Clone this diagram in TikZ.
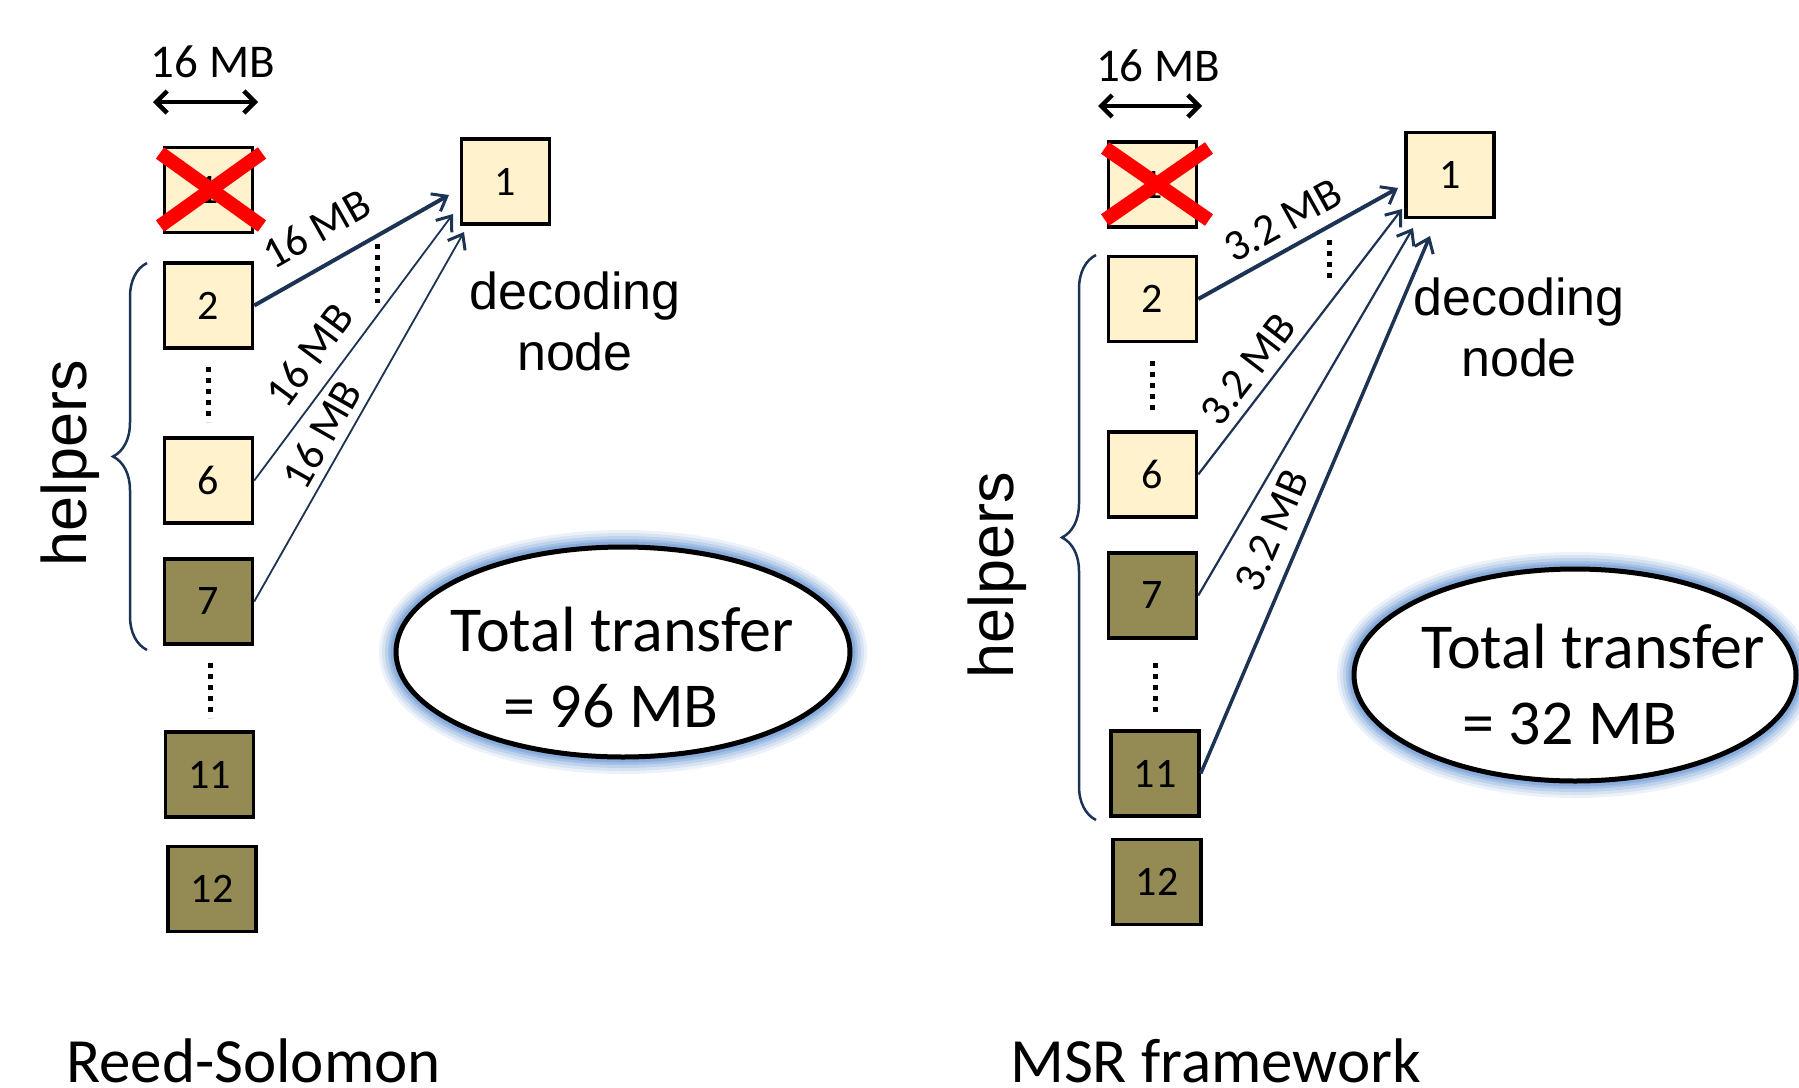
\documentclass[tikz,border=0pt]{standalone}
\usepackage{fontspec}
\setmainfont{Carlito}
\newfontfamily\arialfont{Liberation Sans}
\usetikzlibrary{arrows.meta,decorations.pathreplacing,calc}

\definecolor{cream}{HTML}{FFF2CC}
\definecolor{olive}{HTML}{948A54}
\definecolor{navy}{HTML}{1C3354}
\definecolor{xred}{HTML}{FF0000}
\definecolor{glowblue}{HTML}{6A98D4}

\begin{document}
\begin{tikzpicture}[x=1pt,y=-1pt,
  blk/.style={draw=black, line width=3.5pt, minimum width=88pt, minimum height=85pt,
    inner sep=0pt, font=\fontsize{42}{42}\selectfont},
  lightblk/.style={blk, fill=cream},
  darkblk/.style={blk, fill=olive},
  xmark/.style={xred, line width=14pt},
  dots/.style={line width=5pt, dash pattern=on 5pt off 6pt},
  flow/.style={navy, -{Straight Barb[length=13pt,width=20pt,line width=3pt]}},
  thickflow/.style={flow, line width=4pt},
  thinflow/.style={flow, line width=1.8pt},
  mblabel/.style={sloped, inner sep=0pt, font=\fontsize{44}{44}\selectfont, text=black},
  sizearrow/.style={line width=4.5pt,
    {Straight Barb[length=11pt,width=22pt]}-{Straight Barb[length=11pt,width=22pt]}},
  sizelabel/.style={font=\fontsize{47}{47}\selectfont, anchor=base, inner sep=0pt},
  role/.style={font=\arialfont\fontsize{52}{61}\selectfont, align=center, inner sep=0pt},
  helperlabel/.style={font=\arialfont\fontsize{63}{63}\selectfont, rotate=90, inner sep=0pt},
  bracket/.style={navy, line width=2.5pt, decorate, decoration={brace, amplitude=34pt}},
  caption/.style={font=\fontsize{63}{63}\selectfont, anchor=base west, inner sep=0pt},
  total/.style={font=\fontsize{64}{76}\selectfont, align=center, inner sep=0pt},
]
\useasboundingbox (0,0) rectangle (1799,1087);
\fill[white] (0,0) rectangle (1799,1087);

% ---------- summary ellipses with a soft blue glow ----------
\foreach \cx/\cy/\rx/\ry in {623/652/227/105, 1575/675/221/106}{
  \foreach \w/\o in {34/0.12, 28/0.16, 22/0.22, 16/0.32, 11/0.45}
    \draw[glowblue, line width=\w pt, opacity=\o]
      (\cx,\cy) ellipse [x radius=\rx pt, y radius=\ry pt];
  \fill[white] (\cx,\cy) ellipse [x radius=\rx pt, y radius=\ry pt];
  \draw[black, line width=5pt] (\cx,\cy) ellipse [x radius=\rx pt, y radius=\ry pt];
}
% the base anchor of a two-line node sits on its last line
\node[total, anchor=base] (Ltot) at (622,727) {Total transfer\\= 96 MB\hspace*{22pt}};
\node[total, anchor=base] (Rtot) at (1593,744) {Total transfer\\= 32 MB\hspace*{46pt}};

% ---------- Reed-Solomon repair ----------
\node[sizelabel] (Lsz) at (213,77) {16 MB};
\coordinate (Lsa) at (153,102);
\coordinate (Lsb) at (258,102);
\draw[sizearrow] (Lsa) -- (Lsb);

\node[lightblk] (Lx)  at (208.5,190)   {1};
\node[lightblk] (L2)  at (208.5,305.5) {2};
\node[lightblk] (L6)  at (208.5,480.5) {6};
\node[darkblk]  (L7)  at (208.5,601.5) {7};
\node[darkblk]  (L11) at (209.5,774.5) {11};
\node[darkblk]  (L12) at (212,889)     {12};
\node[lightblk] (Ld)  at (505.5,181.5) {1};

\draw[xmark] (160,153) -- (262,226);
\draw[xmark] (262,153) -- (160,226);

\draw[dots] (208,367) -- (208,422);
\draw[dots] (210,663) -- (210,718);
\draw[dots] (377,244) -- (377,303);

\coordinate (Le2) at (449,195);
\coordinate (Le6) at (453,214);
\coordinate (Le7) at (464,232);
\draw[thickflow] (L2.east) -- node[mblabel, pos=0.41, above=19pt] {16 MB} (Le2);
\draw[thinflow]  (L6.east) -- node[mblabel, pos=0.40, above=15pt] {16 MB} (Le6);
\draw[thinflow]  (L7.east) -- node[mblabel, pos=0.42, above=8pt]  {16 MB} (Le7);

\node[role, anchor=north] (Lrole) at (575,272) {decoding\\node};

\draw[bracket] (147,650) -- (147,263);
\node[helperlabel] (Lh) at (70,463) {helpers};

\node[caption] (Lcap) at (66,1082) {Reed-Solomon};

% ---------- MSR repair ----------
\node[sizelabel] (Rsz) at (1158,81) {16 MB};
\coordinate (Rsa) at (1098,106);
\coordinate (Rsb) at (1202,106);
\draw[sizearrow] (Rsa) -- (Rsb);

\node[lightblk] (Rx)  at (1152.5,184.5) {1};
\node[lightblk] (R2)  at (1152.5,299)   {2};
\node[lightblk] (R6)  at (1152.5,474.5) {6};
\node[darkblk]  (R7)  at (1152.5,595.5) {7};
\node[darkblk]  (R11) at (1155,773.5)   {11};
\node[darkblk]  (R12) at (1157,882)     {12};
\node[lightblk] (Rd)  at (1450,175)     {1};

\draw[xmark] (1105,148) -- (1209,220);
\draw[xmark] (1209,148) -- (1105,220);

\draw[dots] (1152,361) -- (1152,414);
\draw[dots] (1155,663) -- (1155,715);
\draw[dots] (1329,240) -- (1329,279);

\coordinate (Re2)  at (1398,188);
\coordinate (Re6)  at (1402,209);
\coordinate (Re7)  at (1413,228);
\coordinate (Re11) at (1430,236);
\draw[thickflow] (R2.east)  -- node[mblabel, pos=0.49, above=11pt] {3.2 MB} (Re2);
\draw[thinflow, line width=2.2pt] (R6.east) -- node[mblabel, pos=0.34, above=9pt] {3.2 MB} (Re6);
\draw[thinflow, line width=2.2pt] (R7.east) -- (Re7);
\draw[thickflow, line width=3.5pt] (R11.east) -- node[mblabel, pos=0.43, above=14pt] {3.2 MB} (Re11);

\node[role, anchor=north] (Rrole) at (1519,278) {decoding\\node};

\draw[bracket] (1096,820) -- (1096,255);
\node[helperlabel] (Rh) at (997,575) {helpers};

\node[caption] (Rcap) at (1010,1082) {MSR framework};
\end{tikzpicture}
\end{document}
